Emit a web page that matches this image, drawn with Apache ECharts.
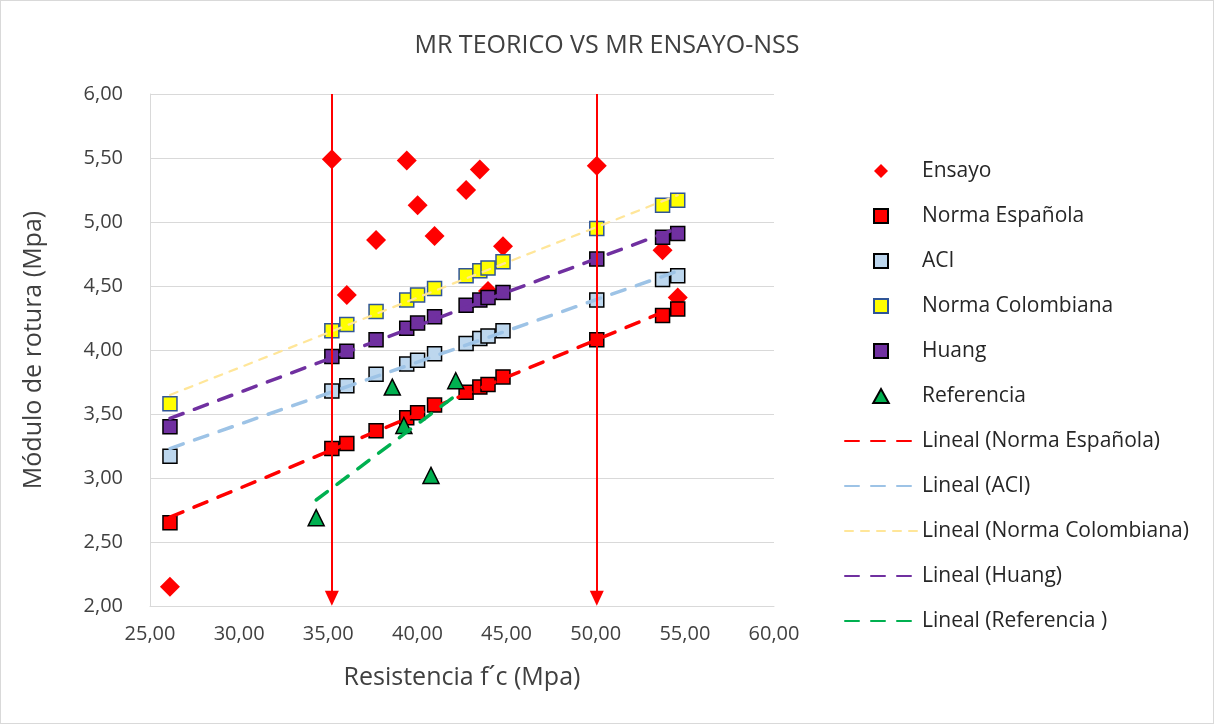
<!DOCTYPE html>
<html>
<head>
<meta charset="utf-8">
<script src="https://cdn.jsdelivr.net/npm/echarts@6/dist/echarts.min.js"></script>
<style>
  html, body { margin: 0; padding: 0; background: #fff; }
  #main { width: 1212px; height: 722px; border: 1px solid #d9d9d9; }
</style>
</head>
<body>
<div id="main"></div>
<script>
// resistencia f'c (Mpa), comun a las series calculadas
var xFc = [26.12, 35.2, 36.04, 37.68, 39.4, 40.01, 40.96, 42.73, 43.5, 43.96, 44.8, 50.06, 53.75, 54.6];
var ensayo = [2.15, 5.49, 4.43, 4.86, 5.48, 5.13, 4.89, 5.25, 5.41, 4.46, 4.81, 5.44, 4.78, 4.41];
var normaEsp = [2.65, 3.23, 3.27, 3.37, 3.47, 3.51, 3.57, 3.67, 3.71, 3.73, 3.79, 4.08, 4.27, 4.32];
var aci = [3.17, 3.68, 3.72, 3.81, 3.89, 3.92, 3.97, 4.05, 4.09, 4.11, 4.15, 4.39, 4.55, 4.58];
var colombiana = [3.58, 4.15, 4.20, 4.30, 4.39, 4.43, 4.48, 4.58, 4.62, 4.64, 4.69, 4.95, 5.13, 5.17];
var huang = [3.40, 3.95, 3.99, 4.08, 4.17, 4.21, 4.26, 4.35, 4.39, 4.41, 4.45, 4.71, 4.88, 4.91];
// referencia tiene sus propios f'c
var refX = [34.32, 38.59, 39.24, 40.76, 42.15];
var refY = [2.69, 3.71, 3.41, 3.02, 3.76];
// flechas verticales (f'c)
var arrowX = [35.2, 50.06];
var yRange = [2, 6];

var FONT = 'Open Sans';

function pairs(xs, ys) {
    var out = [];
    for (var i = 0; i < xs.length; i++) out.push([xs[i], ys[i]]);
    return out;
}
// linea de tendencia (minimos cuadrados), como la "Lineal" de Excel
function trend(xs, ys) {
    var n = xs.length, sx = 0, sy = 0, sxx = 0, sxy = 0;
    for (var i = 0; i < n; i++) {
        sx += xs[i]; sy += ys[i]; sxx += xs[i] * xs[i]; sxy += xs[i] * ys[i];
    }
    var b = (n * sxy - sx * sy) / (n * sxx - sx * sx);
    var a = (sy - b * sx) / n;
    var x0 = Math.min.apply(null, xs), x1 = Math.max.apply(null, xs);
    return [[x0, a + b * x0], [x1, a + b * x1]];
}
function fmt(v) { return v.toFixed(2).replace('.', ','); }

var SQ = 'path://M0,0L10,0L10,10L0,10Z';
var DIA = 'path://M5,0L10,5L5,10L0,5Z';
var TRI = 'path://M5,0L10,9L0,9Z';

function trendSeries(name, xs, ys, color, width, dash) {
    return {
        name: name, type: 'line', symbol: 'none', silent: true,
        data: trend(xs, ys),
        lineStyle: { color: color, width: width, type: dash, cap: 'round' },
        // sin punto en la leyenda
        itemStyle: { color: 'transparent', borderColor: 'transparent', borderWidth: 0 },
        z: 3
    };
}

var myChart = echarts.init(document.getElementById('main'));
var option = {
    animation: false,
    title: {
        text: 'MR TEORICO VS MR ENSAYO-NSS',
        left: 'center', top: 27,
        textStyle: { fontFamily: FONT, fontSize: 25, fontWeight: 'normal', color: '#404040' }
    },
    grid: { left: 149, top: 93, right: 439, bottom: 117, containLabel: false },
    xAxis: {
        type: 'value', min: 25, max: 60, interval: 5,
        name: 'Resistencia f´c (Mpa)', nameLocation: 'middle', nameGap: 59,
        nameTextStyle: { fontFamily: FONT, fontSize: 25, color: '#404040' },
        axisLine: { lineStyle: { color: '#d9d9d9', width: 1 } },
        axisTick: { show: false },
        splitLine: { show: false },
        axisLabel: { formatter: fmt, fontFamily: FONT, fontSize: 20, color: '#404040', margin: 18 }
    },
    yAxis: {
        type: 'value', min: yRange[0], max: yRange[1], interval: 0.5,
        name: 'Módulo de rotura (Mpa)', nameLocation: 'middle', nameGap: 104,
        nameTextStyle: { fontFamily: FONT, fontSize: 25, color: '#404040' },
        axisLine: { show: true, lineStyle: { color: '#d9d9d9', width: 1 } },
        axisTick: { show: false },
        splitLine: { lineStyle: { color: '#d9d9d9', width: 1 } },
        axisLabel: { formatter: fmt, fontFamily: FONT, fontSize: 20, color: '#404040', margin: 27 }
    },
    legend: {
        orient: 'vertical', left: 838, top: 153,
        itemWidth: 72, itemHeight: 14, itemGap: 21,
        textStyle: { fontFamily: FONT, fontSize: 21, color: '#262626', lineHeight: 24 },
        data: [
            { name: 'Ensayo', icon: DIA },
            { name: 'Norma Española', icon: SQ },
            { name: 'ACI', icon: SQ },
            { name: 'Norma Colombiana', icon: SQ },
            { name: 'Huang', icon: SQ },
            { name: 'Referencia', icon: TRI },
            'Lineal (Norma Española)', 'Lineal (ACI)', 'Lineal (Norma Colombiana)',
            'Lineal (Huang)', 'Lineal (Referencia )'
        ]
    },
    series: [
        { name: 'Ensayo', type: 'scatter', symbol: DIA, symbolSize: 20,
          data: pairs(xFc, ensayo), itemStyle: { color: '#ff0000', opacity: 1 } },
        { name: 'Norma Española', type: 'scatter', symbol: SQ, symbolSize: 14,
          data: pairs(xFc, normaEsp), itemStyle: { color: '#ff0000', borderColor: '#000', borderWidth: 1.5, opacity: 1 } },
        { name: 'ACI', type: 'scatter', symbol: SQ, symbolSize: 14,
          data: pairs(xFc, aci), itemStyle: { color: '#bdd7ee', borderColor: '#000', borderWidth: 1.5, opacity: 1 } },
        { name: 'Norma Colombiana', type: 'scatter', symbol: SQ, symbolSize: 14,
          data: pairs(xFc, colombiana), itemStyle: { color: '#ffff00', borderColor: '#2f5597', borderWidth: 1.5, opacity: 1 } },
        { name: 'Huang', type: 'scatter', symbol: SQ, symbolSize: 14,
          data: pairs(xFc, huang), itemStyle: { color: '#7030a0', borderColor: '#000', borderWidth: 1.5, opacity: 1 } },
        { name: 'Referencia', type: 'scatter', symbol: TRI, symbolSize: 16,
          data: pairs(refX, refY), itemStyle: { color: '#00b050', borderColor: '#000', borderWidth: 1.5, opacity: 1 } },
        trendSeries('Lineal (Norma Española)', xFc, normaEsp, '#ff0000', 3.5, [14, 12]),
        trendSeries('Lineal (ACI)', xFc, aci, '#9dc3e6', 3.5, [14, 12]),
        trendSeries('Lineal (Norma Colombiana)', xFc, colombiana, '#ffe699', 2.25, [8, 8]),
        trendSeries('Lineal (Huang)', xFc, huang, '#7030a0', 3.5, [14, 12]),
        trendSeries('Lineal (Referencia )', refX, refY, '#00b050', 3.5, [14, 12]),
        {
            name: 'flechas', type: 'line', data: [], silent: true, z: 5,
            markLine: {
                silent: true, animation: false,
                symbol: ['none', 'triangle'], symbolSize: [14, 15],
                label: { show: false },
                lineStyle: { color: '#ff0000', width: 2, type: 'solid' },
                data: arrowX.map(function (x) {
                    return [{ coord: [x, yRange[1]] }, { coord: [x, yRange[0] + 0.06] }];
                })
            }
        }
    ]
};
myChart.setOption(option);
</script>
</body>
</html>
